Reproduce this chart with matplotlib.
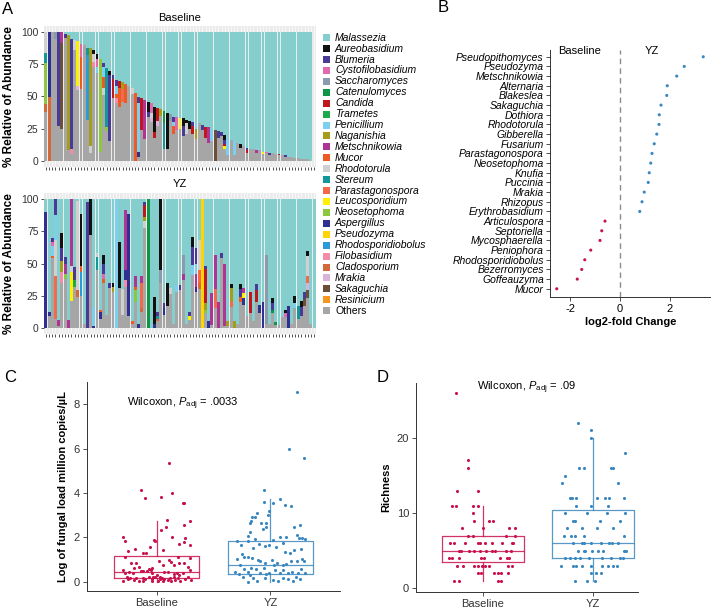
import numpy as np
import matplotlib
matplotlib.use('Agg')
import matplotlib.pyplot as plt
from matplotlib.patches import Rectangle

plt.rcParams['font.family'] = ['Liberation Sans', 'DejaVu Sans']
plt.rcParams['mathtext.fontset'] = 'custom'
plt.rcParams['mathtext.rm'] = 'Liberation Sans'
plt.rcParams['mathtext.it'] = 'Liberation Sans:italic'

# ---------------- data ----------------
taxa = ['Malassezia', 'Aureobasidium', 'Blumeria', 'Cystofilobasidium', 'Saccharomyces',
        'Catenulomyces', 'Candida', 'Trametes', 'Penicillium', 'Naganishia', 'Metschnikowia',
        'Mucor', 'Rhodotorula', 'Stereum', 'Parastagonospora', 'Leucosporidium', 'Neosetophoma',
        'Aspergillus', 'Pseudozyma', 'Rhodosporidiobolus', 'Filobasidium', 'Cladosporium',
        'Mrakia', 'Sakaguchia', 'Resinicium', 'Others']
taxa_colors = ['#85CECE', '#111111', '#4A3A97', '#E16AAE', '#8A9BAE',
               '#0E9647', '#C0161E', '#1DAA4B', '#7DCFEE', '#A59C1A', '#AE3593',
               '#EE5A24', '#D0D0D0', '#14979B', '#F26A4B', '#FFF000', '#8DC63F',
               '#2E3192', '#FFD400', '#2B9AD8', '#F48BA9', '#D3693A',
               '#D9B3DC', '#6A5038', '#F8971D', '#A6A6A6']
codes = {'Aur': 'Aureobasidium', 'Blu': 'Blumeria', 'Cys': 'Cystofilobasidium',
         'Sac': 'Saccharomyces', 'Cat': 'Catenulomyces', 'Can': 'Candida', 'Tra': 'Trametes',
         'Pen': 'Penicillium', 'Nag': 'Naganishia', 'Met': 'Metschnikowia', 'Muc': 'Mucor',
         'Rho': 'Rhodotorula', 'Ste': 'Stereum', 'Par': 'Parastagonospora',
         'Leu': 'Leucosporidium', 'Neo': 'Neosetophoma', 'Asp': 'Aspergillus',
         'Pse': 'Pseudozyma', 'Rsp': 'Rhodosporidiobolus', 'Fil': 'Filobasidium',
         'Cla': 'Cladosporium', 'Mra': 'Mrakia', 'Sak': 'Sakaguchia', 'Res': 'Resinicium'}

# non-Malassezia share per sample (%), Malassezia fills the rest
baseline_total = [100, 100, 100, 100, 100, 100, 99, 98, 95, 94,
                  93, 91, 90, 88, 88, 86, 83, 79, 76, 72,
                  70, 67, 63, 62, 61, 60, 58, 57, 53, 50,
                  49, 47, 46, 45, 42, 41, 40, 39, 37, 36,
                  34, 34, 33, 33, 32, 31, 30, 30, 29, 28,
                  26, 26, 25, 24, 23, 22, 20, 18, 16, 15,
                  14, 13, 11, 10, 9, 9, 8, 8, 7, 7,
                  6, 6, 5, 5, 4, 4, 3, 3, 2, 2,
                  1, 1, 1, 0, 0]
baseline_parts = [
    {'Neo': 32, 'Ste': 8, 'Cla': 6, 'Rho': 16}, {'Asp': 50, 'Cla': 50}, {}, {'Sac': 5},
    {'Blu': 73}, {'Met': 8, 'Sak': 67}, {'Blu': 3}, {'Nag': 90}, {'Blu': 86, 'Fil': 4},
    {'Rho': 8}, {'Leu': 35, 'Mra': 3}, {'Cys': 10, 'Muc': 25}, {}, {'Ste': 6, 'Rsp': 50},
    {'Nag': 77, 'Rho': 5}, {'Aur': 3, 'Rho': 6, 'Fil': 4}, {'Aur': 4, 'Cys': 6, 'Pen': 5},
    {'Neo': 72}, {'Blu': 3, 'Pen': 8, 'Rho': 6, 'Muc': 8}, {'Neo': 3, 'Ste': 46},
    {'Aur': 3, 'Blu': 52}, {'Can': 15, 'Blu': 3}, {'Blu': 5, 'Pen': 6, 'Fil': 4, 'Muc': 3},
    {'Can': 5, 'Muc': 15}, {'Nag': 5, 'Par': 10}, {'Muc': 15}, {}, {'Rho': 5}, {'Muc': 53},
    {'Blu': 5, 'Pen': 38, 'Asp': 4}, {'Can': 25}, {'Met': 30}, {'Aur': 8, 'Blu': 4},
    {'Cys': 8, 'Rho': 4, 'Mra': 3}, {'Aur': 20, 'Can': 4}, {'Can': 10, 'Mra': 4}, {'Nag': 5},
    {'Cat': 10, 'Ste': 20}, {'Aur': 28}, {'Sac': 5}, {'Blu': 4, 'Muc': 6, 'Pen': 3},
    {'Cys': 10}, {'Leu': 8}, {'Aur': 6, 'Blu': 8}, {'Aur': 3, 'Rho': 8}, {'Aur': 6},
    {'Can': 6, 'Blu': 3}, {'Pen': 5, 'Nag': 8}, {}, {'Blu': 4}, {'Can': 8}, {'Met': 12},
    {'Pen': 10}, {'Sak': 24}, {'Blu': 5}, {'Blu': 3}, {'Aur': 4, 'Blu': 3, 'Leu': 2, 'Can': 2},
    {'Pen': 14}, {}, {'Pen': 11}, {}, {'Aur': 3}, {}, {'Can': 2, 'Blu': 2}, {}, {},
    {'Met': 2}, {}, {'Leu': 2}, {'Cys': 1}, {'Blu': 2}, {}, {}, {'Can': 1}, {}, {'Blu': 1},
    {}, {}, {}, {}, {}, {}, {}, {}]

yz_total = [90, 12, 70, 100, 6, 74, 55, 6, 100, 47,
            99, 89, 3, 98, 100, 16, 58, 14, 57, 10,
            35, 35, 100, 67, 30, 92, 89, 5, 40, 3,
            40, 98, 100, 0, 24, 12, 100, 19, 35, 31,
            3, 33, 33, 57, 3, 12, 71, 62, 68, 100,
            48, 5, 27, 57, 20, 58, 50, 5, 34, 5,
            3, 34, 31, 9, 28, 5, 34, 18, 20, 57,
            3, 23, 4, 2, 8, 14, 17, 3, 25, 17,
            21, 28, 60, 3, 0]
yz_parts = [
    {'Asp': 90}, {'Asp': 3}, {'Blu': 3, 'Pen': 8, 'Cys': 3, 'Muc': 2},
    {'Blu': 12, 'Pen': 20, 'Rho': 28, 'Par': 33}, {'Met': 5},
    {'Aur': 12, 'Blu': 10, 'Nag': 9, 'Fil': 8}, {'Blu': 5, 'Met': 8, 'Neo': 4}, {'Met': 6},
    {'Met': 52, 'Rho': 5, 'Leu': 22}, {'Blu': 10, 'Tra': 5}, {'Rho': 70, 'Cla': 5},
    {'Aur': 41, 'Muc': 5, 'Rsp': 18}, {}, {'Blu': 98}, {'Aur': 28}, {'Pen': 15, 'Asp': 1},
    {'Rho': 3, 'Ste': 10}, {'Asp': 5, 'Muc': 2}, {'Aur': 7, 'Blu': 8, 'Muc': 3, 'Cys': 4}, {},
    {'Blu': 4}, {'Aur': 3, 'Nag': 4}, {'Pen': 100}, {'Aur': 36}, {'Rho': 20},
    {'Met': 47, 'Asp': 8, 'Fil': 5}, {'Asp': 80}, {'Muc': 2}, {'Met': 8, 'Neo': 9, 'Muc': 3},
    {'Asp': 3}, {'Met': 5, 'Cla': 3, 'Par': 20}, {'Blu': 2, 'Can': 10, 'Nag': 3, 'Rho': 5},
    {'Cat': 100}, {}, {'Aur': 21, 'Asp': 3}, {'Blu': 3, 'Ste': 2, 'Cla': 2},
    {'Aur': 55, 'Sac': 10}, {'Blu': 4, 'Asp': 5}, {'Aur': 18}, {'Rho': 5}, {}, {'Pen': 5},
    {'Blu': 4}, {'Met': 5, 'Sac': 15}, {}, {'Leu': 3, 'Blu': 3},
    {'Aur': 8, 'Blu': 14, 'Pen': 8}, {'Blu': 12, 'Met': 10, 'Pen': 8, 'Asp': 4},
    {'Rho': 23, 'Par': 10, 'Cla': 5}, {'Pse': 100}, {'Blu': 2, 'Can': 27, 'Nag': 5, 'Neo': 3},
    {'Asp': 5}, {'Met': 25}, {'Met': 27, 'Par': 15}, {'Met': 20}, {'Blu': 4}, {'Met': 49},
    {'Nag': 4}, {'Aur': 3, 'Par': 5, 'Nag': 10}, {'Nag': 5}, {},
    {'Aur': 4, 'Muc': 4, 'Blu': 6}, {'Met': 4, 'Leu': 4, 'Asp': 5}, {}, {'Can': 17}, {},
    {'Can': 9, 'Blu': 5}, {'Asp': 7}, {'Asp': 20}, {'Sac': 54}, {},
    {'Aur': 4, 'Blu': 5, 'Cat': 3}, {'Cat': 2}, {}, {}, {'Aur': 3, 'Cys': 3}, {'Asp': 17}, {},
    {'Aur': 6, 'Pen': 4}, {'Ste': 10}, {'Aur': 5, 'Blu': 7}, {'Blu': 6, 'Sak': 5},
    {'Aur': 4, 'Rho': 16, 'Par': 5, 'Mra': 6, 'Sak': 6}, {}, {}]

# panel B
b_taxa = ['Pseudopithomyces', 'Pseudozyma', 'Metschnikowia', 'Alternaria', 'Blakeslea',
          'Sakaguchia', 'Dothiora', 'Rhodotorula', 'Gibberella', 'Fusarium',
          'Parastagonospora', 'Neosetophoma', 'Knufia', 'Puccinia', 'Mrakia', 'Rhizopus',
          'Erythrobasidium', 'Articulospora', 'Septoriella', 'Mycosphaerella', 'Peniophora',
          'Rhodosporidiobolus', 'Bezerromyces', 'Goffeauzyma', 'Mucor']
b_lfc = [3.33, 2.57, 2.27, 1.89, 1.87, 1.64, 1.57, 1.56, 1.47, 1.37,
         1.28, 1.23, 1.17, 1.13, 0.97, 0.88, 0.79, -0.60, -0.73, -0.80,
         -1.17, -1.41, -1.53, -1.71, -2.53]

# panel C: fungal load (jitter offset, value)
c_base_off = [0.11, -0.14, -0.10, 0.04, 0.14, 0.23, 0.24, 0.09, 0.04, 0.08, 0.24, 0.29, -0.29,
              -0.28, -0.01, -0.02, 0.14, 0.25, 0.24, -0.06, -0.19, -0.25, 0.29, 0.20, -0.12,
              -0.09, 0.06, -0.28, 0.24, 0.29, -0.22, -0.18, 0.11, 0.13, 0.02, 0.19, 0.20,
              -0.20, -0.15, -0.07, -0.04, 0.06, 0.15, 0.28, 0.29, -0.29, -0.28, -0.24, -0.21,
              -0.14, -0.12, -0.08, -0.05, -0.04, 0.00, 0.03, 0.07, 0.10, 0.15, 0.18, 0.20, 0.23,
              -0.29, -0.25, -0.23, -0.18, -0.15, -0.12, -0.10, -0.07, -0.04, -0.01, 0.01, 0.05,
              0.07, 0.10, 0.12, 0.15, 0.16, 0.19, 0.21, 0.25, 0.30, 0.28, -0.26, -0.20, -0.04,
              0.06, 0.13, -0.12, -0.03, 0.03]
c_base_val = [5.33, 4.13, 3.78, 3.80, 3.98, 3.54, 3.54, 2.78, 2.33, 2.49, 2.54, 2.73, 2.03,
              1.85, 1.83, 1.89, 2.00, 1.97, 1.79, 1.58, 1.47, 1.38, 1.68, 1.71, 1.32,
              1.28, 1.43, 1.13, 0.83, 1.07, 0.87, 0.87, 0.98, 0.89, 0.92, 1.13, 0.83,
              0.62, 0.65, 0.59, 0.63, 0.77, 0.75, 0.68, 0.53, 0.53, 0.38, 0.45, 0.41,
              0.50, 0.50, 0.50, 0.51, 0.38, 0.30, 0.23, 0.42, 0.42, 0.33, 0.38, 0.30, 0.41,
              0.05, 0.11, 0.15, 0.15, 0.05, 0.17, 0.11, 0.20, 0.14, 0.20, 0.05, 0.18,
              0.11, 0.08, 0.15, 0.20, 0.08, 0.15, 0.05, 0.14, 0.08, 0.23, 0.23, 0.08, 0.05,
              0.05, 0.05, 0.05, 0.20, 0.11]
c_yz_off = [0.23, 0.16, 0.29, -0.06, 0.08, 0.02, -0.06, 0.13, 0.18, -0.01, -0.12, -0.02, -0.16,
            -0.14, -0.17, -0.08, -0.04, -0.07, -0.04, -0.18, 0.26, 0.21, -0.18, -0.20, -0.14,
            0.08, 0.14, 0.23, 0.25, 0.28, 0.30, 0.02, 0.11, -0.05, 0.05, -0.01, -0.29, -0.20,
            -0.26, -0.15, -0.10, 0.13, 0.17, 0.21, 0.27, -0.29, -0.23, -0.25, -0.27, -0.20,
            -0.16, -0.09, -0.11, -0.05, 0.01, 0.03, 0.06, 0.11, 0.14, 0.18, 0.23, 0.28, 0.29,
            -0.31, -0.28, -0.23, -0.20, -0.17, -0.13, -0.09, -0.06, -0.04, -0.01, 0.04, 0.08,
            0.11, 0.15, 0.19, 0.24, 0.27, 0.30, -0.20, -0.15, -0.12, -0.05, 0.02, 0.07, 0.11,
            0.15, 0.20, 0.26, 0.22, -0.24, -0.18]
c_yz_val = [8.53, 5.98, 5.59, 4.14, 3.74, 3.56, 3.59, 3.44, 3.41, 3.20, 3.11, 3.02, 2.90,
            2.90, 2.72, 2.63, 2.63, 2.36, 2.45, 2.66, 2.55, 2.48, 2.25, 2.06, 1.95,
            2.00, 2.03, 2.10, 1.98, 1.97, 1.91, 1.89, 1.73, 1.62, 1.56, 1.65, 1.83, 1.86,
            1.67, 1.52, 1.70, 1.35, 1.29, 1.43, 1.46, 1.04, 1.14, 1.25, 0.77, 1.10,
            1.08, 0.93, 0.98, 0.83, 0.98, 0.77, 0.83, 0.74, 0.80, 0.95, 0.93, 1.01, 0.95,
            0.42, 0.36, 0.57, 0.42, 0.62, 0.57, 0.41, 0.60, 0.33, 0.41, 0.53, 0.38,
            0.53, 0.41, 0.45, 0.38, 0.57, 0.41, 0.00, 0.15, 0.05, 0.15, 0.06, 0.05, 0.17,
            0.11, 0.03, 0.11, 0.23, 0.23, 0.30]
# box statistics: low whisker, q1, median, q3, high whisker
c_box_base = [0.0, 0.15, 0.45, 1.17, 2.75]
c_box_yz = [0.0, 0.35, 0.78, 1.85, 3.71]

# panel D: richness
d_base_off = [-0.25, -0.14, -0.14, -0.24, -0.05, -0.28, -0.25, -0.09, -0.05, -0.09,
              -0.08, 0.05, 0.09, -0.19, 0.00, 0.24, 0.29, -0.14, -0.09, 0.21, 0.29,
              -0.30, -0.26, -0.16, -0.05, -0.03, 0.02, 0.08, 0.17, 0.26, 0.27,
              -0.22, -0.20, -0.13, -0.08, -0.03, 0.03, 0.08, 0.11, 0.21, 0.25,
              -0.31, -0.28, -0.22, -0.02, 0.01, 0.15, 0.22, 0.24,
              -0.24, -0.18, -0.08, -0.05, -0.01, 0.02, 0.05, 0.23, 0.26,
              -0.05, -0.02, 0.10, 0.14, 0.16, 0.23, -0.26, -0.22, 0.14, 0.16]
d_base_val = [26, 17, 16, 13, 13, 11, 11, 11, 11, 10,
              9, 9, 9, 8, 8, 8, 8, 7, 7, 7, 7,
              6, 6, 6, 6, 6, 6, 6, 6, 6, 6,
              5, 5, 5, 5, 5, 5, 5, 5, 5, 5,
              4, 4, 4, 4, 4, 4, 4, 4,
              3, 3, 3, 3, 3, 3, 3, 3, 3,
              2, 2, 2, 2, 2, 2, 1, 1, 1, 1]
d_yz_off = [-0.14, -0.02, -0.02, 0.29, -0.13, -0.08, 0.16, 0.18, -0.25, -0.28, 0.23,
            -0.21, -0.19, -0.15, 0.04, 0.11, 0.15, 0.28, -0.15, -0.02, 0.14,
            -0.25, -0.05, 0.13, 0.29, -0.18, -0.16, 0.06, 0.25, -0.24, -0.10, 0.04, 0.18,
            -0.26, -0.20, -0.16, -0.08, 0.28,
            -0.18, -0.10, -0.08, -0.02, 0.07, 0.15, 0.17, 0.23,
            -0.14, -0.08, -0.07, -0.01, 0.05, 0.09, 0.28, 0.30,
            -0.25, -0.21, -0.16, -0.12, -0.04, 0.08, 0.16, 0.25, 0.27,
            -0.29, -0.18, -0.15, -0.10, -0.02, 0.08, 0.14, 0.18, 0.22,
            -0.02, 0.03, 0.07, -0.16, -0.05, 0.02]
d_yz_val = [22, 21, 20, 18, 16, 16, 16, 16, 15, 14, 14,
            12, 12, 12, 12, 12, 12, 12, 11, 11, 11,
            10, 10, 10, 10, 9, 9, 9, 9, 8, 8, 8, 8,
            7, 7, 7, 7, 7,
            6, 6, 6, 6, 6, 6, 6, 6,
            5, 5, 5, 5, 5, 5, 5, 5,
            4, 4, 4, 4, 4, 4, 4, 4, 4,
            3, 3, 3, 3, 3, 3, 3, 3, 3,
            2, 2, 2, 1, 1, 1]
d_box_base = [1, 3.45, 5, 7, 11]
d_box_yz = [1, 4, 6, 10.4, 20]

groups = ['Baseline', 'YZ']
red = '#C8124B'
blue = '#3A87C0'
W, H = 711, 611


def frac(x0, y0, x1, y1):
    return [x0 / W, 1 - y1 / H, (x1 - x0) / W, (y1 - y0) / H]


fig = plt.figure(figsize=(W / 100, H / 100), dpi=100)


def draw_stack(ax, totals, parts):
    n = len(totals)
    x = np.arange(1, n + 1)
    heights = {t: np.zeros(n) for t in taxa}
    for i, (tot, p) in enumerate(zip(totals, parts)):
        s = 0
        for k, v in p.items():
            heights[codes[k]][i] = v
            s += v
        heights['Others'][i] = max(tot - s, 0)
        heights['Malassezia'][i] = 100 - max(tot, s)
    bottom = np.zeros(n)
    for t, c in zip(taxa[::-1], taxa_colors[::-1]):
        ax.bar(x, heights[t], bottom=bottom, width=0.9, color=c, linewidth=0)
        bottom += heights[t]
    ax.set_facecolor('#EBEBEB')
    ax.set_xlim(0.4, n + 0.6)
    ax.set_ylim(-5, 105)
    ax.set_xticks(x)
    ax.set_xticklabels([])
    ax.grid(axis='x', color='white', lw=0.45)
    ax.set_axisbelow(True)
    ax.set_yticks([0, 25, 50, 75, 100])
    ax.tick_params(axis='both', length=2.5, width=0.6, color='#333333', labelsize=7.5,
                   labelcolor='#333333', pad=1.5)
    for s in ax.spines.values():
        s.set_visible(False)


ax1 = fig.add_axes(frac(44, 26, 316, 167))
draw_stack(ax1, baseline_total, baseline_parts)
ax2 = fig.add_axes(frac(44, 193, 316, 334))
draw_stack(ax2, yz_total, yz_parts)
fig.text(180 / W, 1 - 18 / H, 'Baseline', ha='center', va='center', fontsize=8)
fig.text(180 / W, 1 - 184 / H, 'YZ', ha='center', va='center', fontsize=8)
for yc in (96.5, 263.5):
    fig.text(9 / W, 1 - yc / H, '% Relative of Abundance', rotation=90, ha='center',
             va='center', fontsize=8.5, fontweight='bold')

# legend
for i, (name, col) in enumerate(zip(taxa, taxa_colors)):
    yc = 37.7 + i * 10.92
    fig.add_artist(Rectangle((323 / W, 1 - (yc + 3.5) / H), 7 / W, 7 / H,
                             transform=fig.transFigure, facecolor=col, edgecolor='none'))
    fig.text(335 / W, 1 - yc / H, name, ha='left', va='center', fontsize=7.5,
             style='normal' if name == 'Others' else 'italic')

# panel B
axb = fig.add_axes([550 / W, 1 - 297 / H, 1 - 550 / W, 247 / H])
rows = np.arange(len(b_taxa), 0, -1)
cols = [blue if v > 0 else red for v in b_lfc]
axb.scatter(b_lfc, rows, s=5, c=cols, linewidths=0, zorder=3)
axb.axvline(0, color='#8C8C8C', lw=1, ls=(0, (4, 3)))
axb.set_ylim(0.15, 25.7)
axb.set_xlim(-2.8, 3.64)
axb.set_yticks(rows)
axb.set_yticklabels(b_taxa, style='italic')
axb.set_xticks([-2, 0, 2])
axb.set_xticklabels(['-2', '0', '2'])
axb.set_xlabel('log2-fold Change', fontsize=8, fontweight='bold', labelpad=2)
axb.tick_params(axis='both', length=3, width=0.6, color='#333333', labelsize=8, pad=2)
axb.tick_params(axis='y', labelsize=7.5, pad=1.5)
for s in ['top', 'right']:
    axb.spines[s].set_visible(False)
for s in ['left', 'bottom']:
    axb.spines[s].set_color('#333333')
    axb.spines[s].set_linewidth(0.7)
axb.text(-1.6, 25.55, 'Baseline', ha='center', va='center', fontsize=8)
axb.text(1.28, 25.55, 'YZ', ha='center', va='center', fontsize=8)


def box_panel(ax, stats, offs, vals, ylabel, ptext, ptext_xy):
    bx = []
    for i, st in enumerate(stats):
        bx.append(dict(whislo=st[0], q1=st[1], med=st[2], q3=st[3], whishi=st[4],
                       fliers=[], label=groups[i]))
    for i, (st, col) in enumerate(zip(bx, [red, blue])):
        ax.bxp([st], positions=[i + 1], widths=0.75, showcaps=False, showfliers=False,
               boxprops=dict(color=col, lw=0.9, alpha=0.85),
               whiskerprops=dict(color=col, lw=0.9, alpha=0.85),
               medianprops=dict(color=col, lw=0.9, alpha=0.85))
    for i, col in enumerate([red, blue]):
        ax.scatter(np.array(offs[i]) + i + 1, vals[i], s=5, c=col, linewidths=0, zorder=3)
    ax.set_xticks([1, 2])
    ax.set_xticklabels(groups)
    ax.set_ylabel(ylabel, fontsize=8, fontweight='bold')
    ax.tick_params(axis='both', length=3, width=0.6, color='#333333', labelsize=8,
                   labelcolor='#333333', pad=2)
    for s in ['top', 'right']:
        ax.spines[s].set_visible(False)
    for s in ['left', 'bottom']:
        ax.spines[s].set_color('#333333')
        ax.spines[s].set_linewidth(0.7)
    ax.text(ptext_xy[0], ptext_xy[1], ptext, ha='center', va='center', fontsize=8)


axc = fig.add_axes(frac(87, 382, 340, 590.7))
box_panel(axc, [c_box_base, c_box_yz], [c_base_off, c_yz_off], [c_base_val, c_yz_val],
          'Log of fungal load million copies/µL', r'Wilcoxon, $P_{\mathrm{adj}}$ = .0033',
          (1.23, 8.0))
axc.set_xlim(0.39, 2.61)
axc.set_ylim(-0.4, 9.0)
axc.set_yticks([0, 2, 4, 6, 8])

axd = fig.add_axes(frac(416, 383, 638, 591.7))
box_panel(axd, [d_box_base, d_box_yz], [d_base_off, d_yz_off], [d_base_val, d_yz_val],
          'Richness', r'Wilcoxon, $P_{\mathrm{adj}}$ = .09', (1.4, 26.6))
axd.set_xlim(0.39, 2.41)
axd.set_ylim(-0.45, 27.3)
axd.set_yticks([0, 10, 20])

for lab, x, y in [('A', 8, 10), ('B', 443, 8), ('C', 10, 378), ('D', 383, 378)]:
    fig.text(x / W, 1 - y / H, lab, ha='center', va='center', fontsize=12)

fig.savefig('out.png', dpi=100)
